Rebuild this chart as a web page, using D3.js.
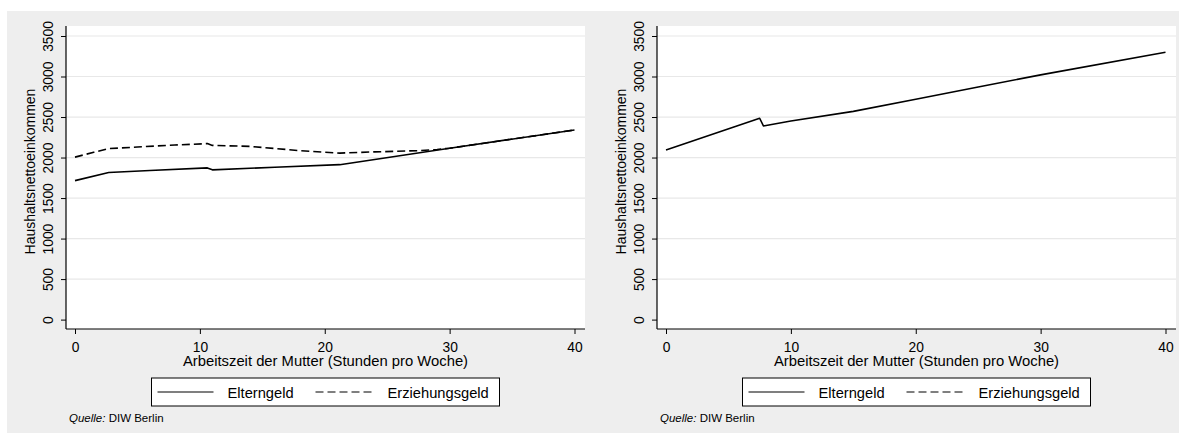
<!DOCTYPE html>
<html><head><meta charset="utf-8">
<script src="https://cdn.jsdelivr.net/npm/d3@7"></script>
<style>
html,body{margin:0;padding:0;background:#fff;}
text{font-family:"Liberation Sans",Arial,Helvetica,sans-serif;fill:#000;}
</style></head>
<body>
<svg id="c" width="1179" height="437"></svg>
<script>
// ---- data ----
const yTicks = [0, 500, 1000, 1500, 2000, 2500, 3000, 3500];
const xTicks = [0, 10, 20, 30, 40];
const seriesNames = ["Elterngeld", "Erziehungsgeld"];
const yTitle = "Haushaltsnettoeinkommen";
const xTitle = "Arbeitszeit der Mutter (Stunden pro Woche)";

// left panel
const leftElternHours = [0, 2.7, 6, 10.6, 11, 16, 21.2, 30, 40];
const leftElternIncome = [1715, 1815, 1840, 1872, 1848, 1880, 1912, 2115, 2340];
const leftErzHours = [0, 1.5, 2.7, 5, 8, 10.6, 11, 14, 18, 21.2, 24, 27.5, 29, 30, 40];
const leftErzIncome = [2005, 2065, 2110, 2130, 2155, 2172, 2150, 2138, 2085, 2055, 2070, 2085, 2100, 2115, 2340];

// right panel
const rightElternHours = [0, 7.5, 7.8, 10, 15, 20, 25, 30, 40];
const rightElternIncome = [2094, 2485, 2390, 2450, 2570, 2720, 2870, 3020, 3300];

const svg = d3.select("#c");
svg.append("rect").attr("x", 7).attr("y", 11).attr("width", 1172).attr("height", 422).attr("fill", "#eeeeee");

function panel(ox, series) {
  const plotL = ox + 66, plotR = ox + 585, plotT = 26, plotB = 329;
  const x = d3.scaleLinear().domain([0, 40]).range([ox + 75, ox + 574.5]);
  const y = d3.scaleLinear().domain([0, 3500]).range([319.6, 36]);
  const g = svg.append("g");
  g.append("rect").attr("x", plotL).attr("y", plotT).attr("width", plotR - plotL).attr("height", plotB - plotT).attr("fill", "#fff");
  // gridlines
  g.append("g").selectAll("line").data(yTicks.filter(d => d > 0)).join("line")
    .attr("x1", plotL).attr("x2", plotR)
    .attr("y1", d => y(d)).attr("y2", d => y(d))
    .attr("stroke", "#e8e8e8").attr("stroke-width", 1.2);
  // y axis
  const ya = g.append("g").attr("transform", `translate(${plotL},0)`)
    .call(d3.axisLeft(y).tickValues(yTicks).tickSize(5).tickPadding(0).tickFormat(d3.format("d")));
  ya.select(".domain").attr("d", `M0,${plotT}V${plotB}`).attr("stroke", "#000").attr("stroke-width", 1.2);
  ya.selectAll(".tick line").attr("stroke", "#000").attr("stroke-width", 1);
  ya.selectAll(".tick text").attr("transform", "rotate(-90)").attr("x", 0).attr("y", -13.5)
    .attr("dy", 0).attr("text-anchor", "middle").style("font-size", "13.8px")
    .style("font-family", '"Liberation Sans",Arial,sans-serif');
  // x axis
  const xa = g.append("g").attr("transform", `translate(0,${plotB})`)
    .call(d3.axisBottom(x).tickValues(xTicks).tickSize(5).tickPadding(0).tickFormat(d3.format("d")));
  xa.select(".domain").attr("d", `M${plotL},0H${plotR}`).attr("stroke", "#000").attr("stroke-width", 1.2);
  xa.selectAll(".tick line").attr("stroke", "#000").attr("stroke-width", 1);
  xa.selectAll(".tick text").attr("y", 22.5).attr("dy", 0).style("font-size", "13.8px")
    .style("font-family", '"Liberation Sans",Arial,sans-serif');
  // titles
  g.append("text").attr("transform", `translate(${ox + 35},${(plotT + plotB) / 2 - 6}) rotate(-90)`)
    .attr("text-anchor", "middle").style("font-size", "14px").text(yTitle);
  g.append("text").attr("x", (plotL + plotR) / 2).attr("y", 366)
    .attr("text-anchor", "middle").style("font-size", "14.8px").text(xTitle);
  // lines
  const line = d3.line().x(d => x(d[0])).y(d => y(d[1]));
  series.forEach(s => {
    g.append("path").datum(d3.zip(s.hours, s.income)).attr("d", line)
      .attr("fill", "none").attr("stroke", "#000").attr("stroke-width", 1.6)
      .attr("stroke-linejoin", "round")
      .attr("stroke-dasharray", s.dash ? "8,4" : null);
  });
  // legend
  const cx = (plotL + plotR) / 2;
  const lx = cx - 174;
  g.append("rect").attr("x", lx).attr("y", 378).attr("width", 348).attr("height", 28)
    .attr("fill", "#fff").attr("stroke", "#000").attr("stroke-width", 1);
  g.append("line").attr("x1", lx + 6).attr("x2", lx + 62).attr("y1", 392).attr("y2", 392)
    .attr("stroke", "#555").attr("stroke-width", 1.3);
  g.append("text").attr("x", lx + 76).attr("y", 397.5).style("font-size", "14.7px").text(seriesNames[0]);
  g.append("line").attr("x1", lx + 164).attr("x2", lx + 222).attr("y1", 392).attr("y2", 392)
    .attr("stroke", "#555").attr("stroke-width", 1.3).attr("stroke-dasharray", "8,4");
  g.append("text").attr("x", lx + 236).attr("y", 397.5).style("font-size", "14.7px").text(seriesNames[1]);
  // source
  const src = g.append("text").attr("x", ox + 69).attr("y", 422).style("font-size", "11.5px");
  src.append("tspan").style("font-style", "italic").text("Quelle:");
  src.append("tspan").text(" DIW Berlin");
}

panel(0, [
  { hours: leftElternHours, income: leftElternIncome, dash: false },
  { hours: leftErzHours, income: leftErzIncome, dash: true }
]);
panel(591, [
  { hours: rightElternHours, income: rightElternIncome, dash: false }
]);
</script>
</body></html>
